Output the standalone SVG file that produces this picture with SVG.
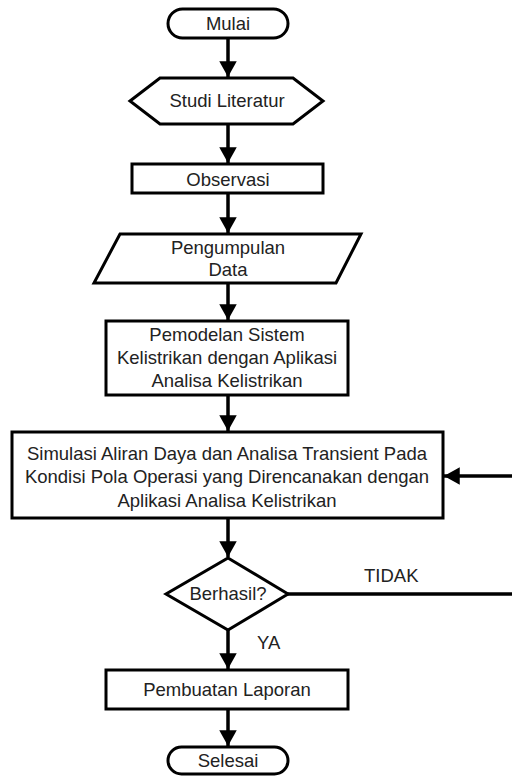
<svg xmlns="http://www.w3.org/2000/svg" width="512" height="776" viewBox="0 0 512 776">
<style>
.s{fill:#fff;stroke:#000;stroke-width:3}
.t{font-family:"Liberation Sans",Arial,sans-serif;font-size:18.5px;fill:#222;text-anchor:middle}
.l{font-family:"Liberation Sans",Arial,sans-serif;font-size:18.5px;fill:#222}
.c{fill:none;stroke:#000;stroke-width:3.5}
</style>
<defs>
<marker id="ah" markerWidth="5" markerHeight="5" refX="4.5" refY="2.5" orient="auto" markerUnits="strokeWidth">
<path d="M0,0 L4.5,2.5 L0,5 Z" fill="#000"/>
</marker>
</defs>
<rect width="512" height="776" fill="#fff"/>
<g id="connectors">
<line class="c" x1="228" y1="38" x2="228" y2="77" marker-end="url(#ah)"/>
<line class="c" x1="228" y1="124" x2="228" y2="163" marker-end="url(#ah)"/>
<line class="c" x1="228" y1="193" x2="228" y2="233" marker-end="url(#ah)"/>
<line class="c" x1="228" y1="283" x2="228" y2="320" marker-end="url(#ah)"/>
<line class="c" x1="228" y1="395" x2="228" y2="431" marker-end="url(#ah)"/>
<line class="c" x1="228" y1="518" x2="228" y2="557" marker-end="url(#ah)"/>
<line class="c" x1="228" y1="630" x2="228" y2="669" marker-end="url(#ah)"/>
<line class="c" x1="228" y1="709" x2="228" y2="746" marker-end="url(#ah)"/>
<line class="c" x1="287" y1="594" x2="512" y2="594"/>
<line class="c" x1="512" y1="476" x2="444" y2="476" marker-end="url(#ah)"/>
<text class="l" x="364" y="582">TIDAK</text>
<text class="l" x="257" y="649">YA</text>
</g>
<g id="mulai">
<rect class="s" x="168" y="9" width="120" height="29" rx="14.5"/>
<text class="t" x="228" y="30">Mulai</text>
</g>
<g id="studi">
<polygon class="s" points="130,101 160,78 293,78 323,101 293,124 160,124"/>
<text class="t" x="227" y="107">Studi Literatur</text>
</g>
<g id="observasi">
<rect class="s" x="132" y="164" width="191" height="29"/>
<text class="t" x="228" y="186">Observasi</text>
</g>
<g id="pengumpulan">
<polygon class="s" points="120,234 361,234 336,283 94,283"/>
<text class="t" x="228" y="254">Pengumpulan</text>
<text class="t" x="228" y="276">Data</text>
</g>
<g id="pemodelan">
<rect class="s" x="106" y="321" width="242" height="74"/>
<text class="t" x="227" y="341">Pemodelan Sistem</text>
<text class="t" x="227" y="364">Kelistrikan dengan Aplikasi</text>
<text class="t" x="227" y="387">Analisa Kelistrikan</text>
</g>
<g id="simulasi">
<rect class="s" x="12" y="432" width="431" height="86"/>
<text class="t" x="227" y="460">Simulasi Aliran Daya dan Analisa Transient Pada</text>
<text class="t" x="227" y="483">Kondisi Pola Operasi yang Direncanakan dengan</text>
<text class="t" x="227" y="507">Aplikasi Analisa Kelistrikan</text>
</g>
<g id="berhasil">
<polygon class="s" points="228,558 288,594 228,630 166,594"/>
<text class="t" x="228" y="600">Berhasil?</text>
</g>
<g id="laporan">
<rect class="s" x="106" y="670" width="242" height="39"/>
<text class="t" x="227" y="696">Pembuatan Laporan</text>
</g>
<g id="selesai">
<rect class="s" x="168" y="747" width="120" height="27" rx="13.5"/>
<text class="t" x="228" y="767">Selesai</text>
</g>
</svg>
